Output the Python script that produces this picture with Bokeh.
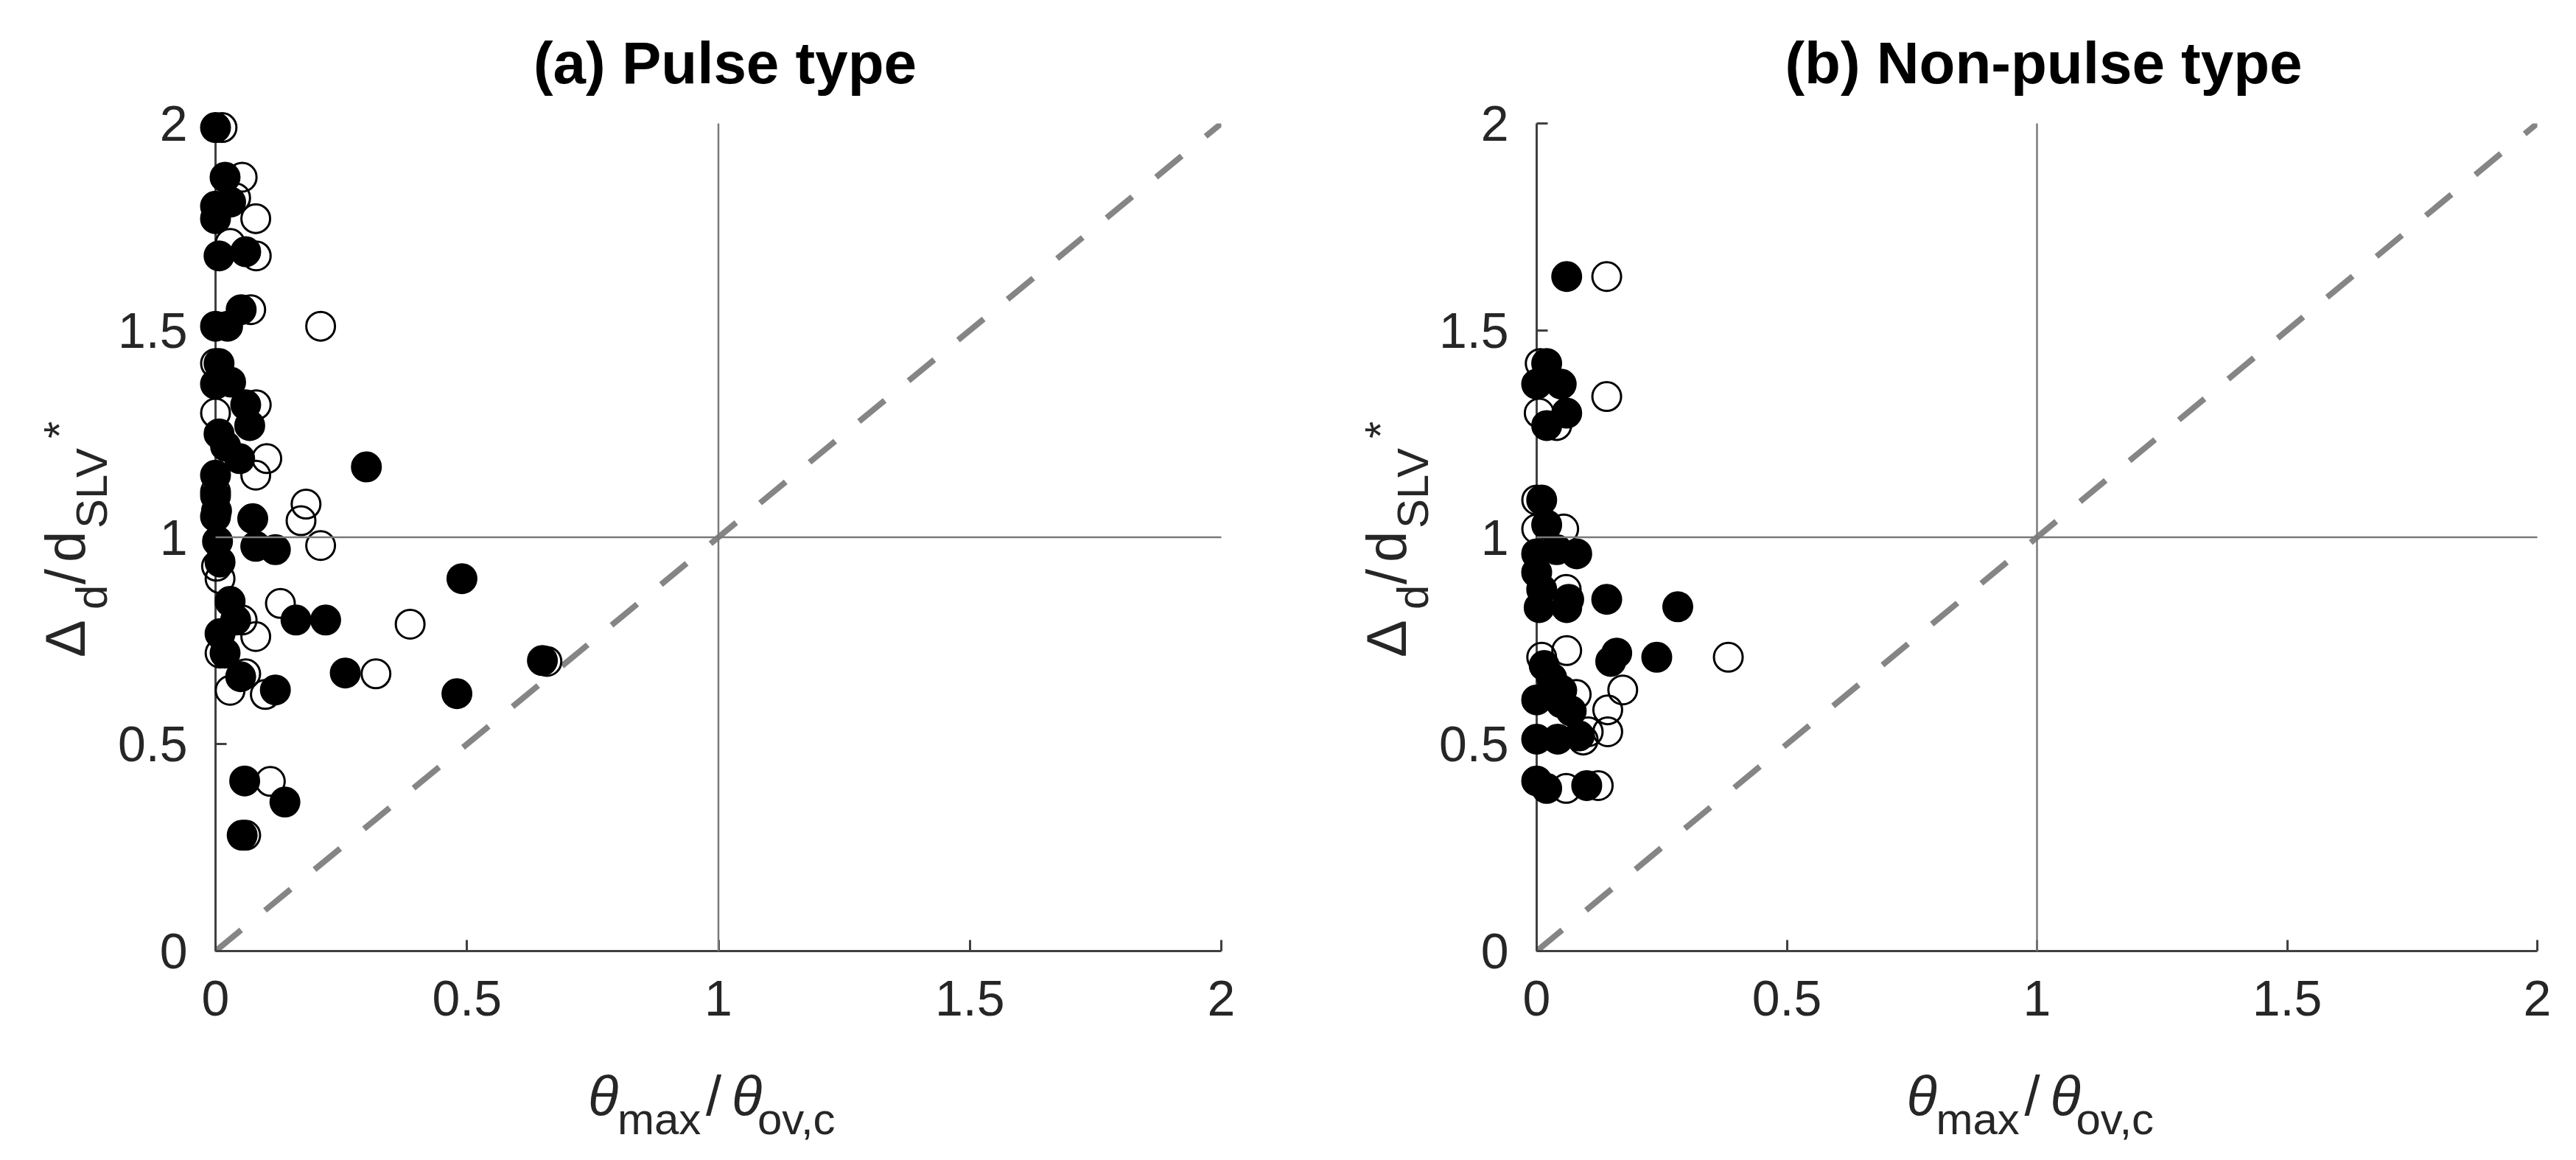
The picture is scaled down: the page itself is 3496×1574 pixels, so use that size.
from math import pi
from bokeh.plotting import figure
from bokeh.layouts import row
from bokeh.models import Range1d, FixedTicker, ColumnDataSource
from bokeh.core.properties import value
from bokeh.embed import file_html
from bokeh.resources import INLINE

# ---------------- data ----------------
tick_vals = [0, 0.5, 1, 1.5, 2]
tick_labels = ["0", "0.5", "1", "1.5", "2"]
titles = ["(a) Pulse type", "(b) Non-pulse type"]

# reference lines (x = 1, y = 1) and 1:1 diagonal
ref_x0 = [1, 0]
ref_y0 = [0, 1]
ref_x1 = [1, 2]
ref_y1 = [2, 1]
diag_x = [0, 2]
diag_y = [0, 2]

# (a) Pulse type
pulse_open_x = [0.013, 0.053, 0.04, 0.08, 0.029, 0.081, 0.07, 0.209, 0.0, 0.081,
                0.0, 0.102, 0.08, 0.0, 0.18, 0.17, 0.209, 0.002, 0.009, 0.129,
                0.053, 0.080, 0.009, 0.387, 0.319, 0.06, 0.029, 0.099, 0.659,
                0.109, 0.06]
pulse_open_y = [1.99, 1.87, 1.82, 1.77, 1.71, 1.68, 1.55, 1.51, 1.42, 1.32,
                1.30, 1.19, 1.15, 1.11, 1.08, 1.04, 0.98, 0.93, 0.90, 0.84,
                0.80, 0.76, 0.72, 0.79, 0.67, 0.67, 0.63, 0.62, 0.70,
                0.41, 0.28]
pulse_fill_x = [0.0, 0.019, 0.03, 0.0, 0.0, 0.007, 0.06, 0.051, 0.0, 0.024,
                0.007, 0.0, 0.03, 0.06, 0.068, 0.007, 0.02, 0.048, 0.30, 0.0,
                0.0, 0.074, 0.0, 0.002, 0.004, 0.08, 0.119, 0.009, 0.49, 0.029,
                0.04, 0.16, 0.219, 0.009, 0.019, 0.258, 0.05, 0.119, 0.48, 0.65,
                0.058, 0.138, 0.053]
pulse_fill_y = [1.99, 1.87, 1.81, 1.80, 1.77, 1.68, 1.69, 1.55, 1.51, 1.51,
                1.42, 1.37, 1.375, 1.32, 1.27, 1.25, 1.22, 1.19, 1.17, 1.15,
                1.10, 1.045, 1.05, 1.064, 0.99, 0.978, 0.97, 0.94, 0.90, 0.845,
                0.80, 0.80, 0.80, 0.767, 0.72, 0.672, 0.663, 0.631, 0.622, 0.702,
                0.411, 0.36, 0.28]

# (b) Non-pulse type
nonpulse_open_x = [0.14, 0.007, 0.14, 0.005, 0.04, 0.0, 0.0, 0.054, 0.059, 0.06,
                   0.383, 0.01, 0.172, 0.142, 0.142, 0.079, 0.093, 0.103, 0.059, 0.123]
nonpulse_open_y = [1.63, 1.42, 1.34, 1.30, 1.27, 1.09, 1.02, 1.02, 0.874, 0.726,
                   0.71, 0.71, 0.631, 0.583, 0.53, 0.62, 0.51, 0.53, 0.393, 0.40]
nonpulse_fill_x = [0.06, 0.02, 0.0, 0.049, 0.06, 0.02, 0.01, 0.02, 0.0, 0.04,
                   0.08, 0.0, 0.01, 0.064, 0.14, 0.282, 0.005, 0.06, 0.16, 0.148,
                   0.24, 0.015, 0.03, 0.05, 0.0, 0.049, 0.069, 0.0, 0.042, 0.085,
                   0.0, 0.02, 0.1]
nonpulse_fill_y = [1.63, 1.42, 1.37, 1.37, 1.30, 1.27, 1.09, 1.03, 0.96, 0.97,
                   0.96, 0.915, 0.874, 0.85, 0.85, 0.832, 0.83, 0.83, 0.72, 0.70,
                   0.71, 0.69, 0.66, 0.63, 0.607, 0.60, 0.58, 0.512, 0.512, 0.52,
                   0.411, 0.393, 0.40]

# ---------------- styling ----------------
FONT = "Liberation Sans"
AXIS_COLOR = "#404040"
TEXT_COLOR = "#262626"
REF_COLOR = "#7a7a7a"
DIAG_COLOR = "#858585"
MAIN_FS = "76px"
SUB_FS = "60px"


def add_text(p, text, x, y, dx, dy, size, angle=0.0, style="normal",
             align="left", color=TEXT_COLOR):
    """dx: px to the right, dy: px upwards, relative to data anchor (x, y)."""
    p.text(x=[x], y=[y], text=[text], x_offset=dx, y_offset=-dy, angle=angle,
           text_font=value(FONT), text_font_size=value(size),
           text_font_style=value(style), text_align=value(align),
           text_baseline=value("alphabetic"), text_color=color,
           level="annotation")


def make_panel(title, ox, oy, fx, fy, width, bl, br):
    p = figure(width=width, height=1558, x_range=Range1d(0, 2), y_range=Range1d(0, 2),
               output_backend="svg", toolbar_location=None,
               min_border_left=bl, min_border_right=br,
               min_border_top=167, min_border_bottom=268)
    p.title.visible = False
    p.outline_line_color = None
    p.xgrid.visible = False
    p.ygrid.visible = False
    p.background_fill_color = "white"
    p.border_fill_color = "white"

    for ax in (p.xaxis, p.yaxis):
        ax.ticker = FixedTicker(ticks=tick_vals)
        ax.major_label_overrides = {str(v): s for v, s in zip(tick_vals, tick_labels)}
        ax.minor_tick_line_color = None
        ax.major_tick_in = 15
        ax.major_tick_out = 0
        ax.axis_line_color = AXIS_COLOR
        ax.axis_line_width = 3
        ax.major_tick_line_color = AXIS_COLOR
        ax.major_tick_line_width = 3
        ax.major_label_text_font = FONT
        ax.major_label_text_font_size = "68px"
        ax.major_label_text_color = TEXT_COLOR
    p.xaxis.major_label_standoff = 40
    p.yaxis.major_label_standoff = 38

    # 1:1 diagonal
    p.line(diag_x, diag_y, line_color=DIAG_COLOR, line_width=8, line_dash="45 42")

    # markers: open first, filled on top
    so = ColumnDataSource(dict(x=ox, y=oy))
    sf = ColumnDataSource(dict(x=fx, y=fy))
    p.scatter("x", "y", source=so, marker="circle", size=39, fill_color=None,
              line_color="black", line_width=3, level="annotation")
    p.scatter("x", "y", source=sf, marker="circle", size=39, fill_color="black",
              line_color="black", line_width=3, level="annotation")

    # reference lines at 1
    p.segment(ref_x0, ref_y0, ref_x1, ref_y1, line_color=REF_COLOR, line_width=2.5,
              level="annotation")

    # title
    add_text(p, title, 1, 2, 9, 82, "80px", style="bold", align="center",
             color="black")

    # y label: Δ_d / d_SLV ^*
    add_text(p, "Δ", 0, 1, -204, -163, MAIN_FS, angle=pi / 2)
    add_text(p, "d", 0, 1, -168, -98, SUB_FS, angle=pi / 2)
    add_text(p, "/", 0, 1, -204, -64, MAIN_FS, angle=pi / 2)
    add_text(p, "d", 0, 1, -204, -34, MAIN_FS, angle=pi / 2)
    add_text(p, "SLV", 0, 1, -168, 12, SUB_FS, angle=pi / 2)
    add_text(p, "*", 0, 1, -212, 134, SUB_FS, angle=pi / 2)

    # x label: θ_max / θ_ov,c
    add_text(p, "θ", 1, 0, -177, -196, MAIN_FS, style="italic")
    add_text(p, "max", 1, 0, -137, -228, SUB_FS)
    add_text(p, "/", 1, 0, -17, -196, MAIN_FS)
    add_text(p, "θ", 1, 0, 18, -196, MAIN_FS, style="italic")
    add_text(p, "ov,c", 1, 0, 53, -228, SUB_FS)
    return p


p1 = make_panel(titles[0], pulse_open_x, pulse_open_y, pulse_fill_x, pulse_fill_y,
                1750, 292, 93)
p2 = make_panel(titles[1], nonpulse_open_x, nonpulse_open_y, nonpulse_fill_x,
                nonpulse_fill_y, 1730, 335, 37)

layout = row(p1, p2)
open("out.html", "w").write(file_html(layout, INLINE))
